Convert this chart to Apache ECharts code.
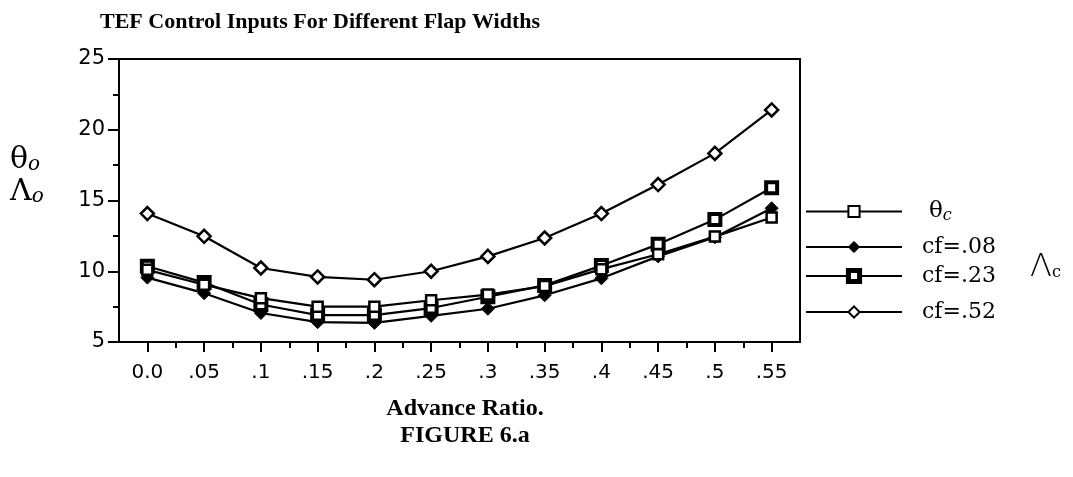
<!DOCTYPE html>
<html>
<head>
<meta charset="utf-8">
<script src="https://cdn.jsdelivr.net/npm/echarts@6/dist/echarts.min.js"></script>
<style>
html,body{margin:0;padding:0;background:#fff;}
#chart{width:1073px;height:477px;}
</style>
</head>
<body>
<div id="chart"></div>
<script>
// ---- data ----
const advanceRatio = [0, 0.05, 0.10, 0.15, 0.20, 0.25, 0.30, 0.35, 0.40, 0.45, 0.50, 0.55];
const theta0 = [10.1, 9.05, 8.1, 7.5, 7.5, 7.95, 8.35, 8.95, 10.15, 11.2, 12.45, 13.8];
const cf08  = [9.55, 8.45, 7.05, 6.4, 6.35, 6.85, 7.35, 8.3, 9.5, 11.05, 12.4, 14.45];
const cf23  = [10.35, 9.2, 7.65, 6.9, 6.9, 7.4, 8.2, 9.0, 10.4, 11.9, 13.65, 15.9];
const cf52  = [14.08, 12.47, 10.23, 9.6, 9.4, 10.0, 11.05, 12.35, 14.08, 16.13, 18.33, 21.4];

const xTickValues = [0, 0.05, 0.10, 0.15, 0.20, 0.25, 0.30, 0.35, 0.40, 0.45, 0.50, 0.55];
const xTickLabels = ['0.0', '.05', '.1', '.15', '.2', '.25', '.3', '.35', '.4', '.45', '.5', '.55'];
const xMinorTicks = [0.025, 0.075, 0.125, 0.175, 0.225, 0.275, 0.325, 0.375, 0.425, 0.475, 0.525];
const yTickLabels = ['5', '10', '15', '20', '25'];

const seriesNames = ['theta', 'cf=.08', 'cf=.23', 'cf=.52'];

function pairs(vals) { return vals.map((v, i) => [advanceRatio[i], v]); }

const chart = echarts.init(document.getElementById('chart'), null, {renderer: 'canvas'});

const lineStyle = {color: '#000', width: 2.2};
const serifFont = 'DejaVu Serif';

function legendAt(name, top, padLeft, formatter, borderW) {
  return {
    data: [name],
    left: 800,
    top: top,
    orient: 'vertical',
    itemWidth: 96,
    itemHeight: 14,
    formatter: formatter,
    itemStyle: {borderWidth: borderW, borderColor: '#000'},
    textStyle: {
      fontFamily: serifFont, fontSize: 22, color: '#000', padding: [0, 0, 0, padLeft],
      rich: {
        a: {fontFamily: serifFont, fontSize: 23, color: '#000'},
        s: {fontFamily: serifFont, fontSize: 16, fontStyle: 'italic', color: '#000', padding: [8, 0, 0, 0]}
      }
    }
  };
}

const option = {
  backgroundColor: '#fff',
  animation: false,
  title: [
    {text: 'TEF Control Inputs For Different Flap Widths', left: 95, top: 6,
     textStyle: {fontFamily: 'Liberation Serif', fontWeight: 'bold', fontSize: 22, color: '#000'}},
    {text: 'Advance Ratio.', left: 460, top: 392, textAlign: 'center',
     textStyle: {fontFamily: 'Liberation Serif', fontWeight: 'bold', fontSize: 24, color: '#000'}},
    {text: 'FIGURE 6.a', left: 460, top: 419, textAlign: 'center',
     textStyle: {fontFamily: 'Liberation Serif', fontWeight: 'bold', fontSize: 24, color: '#000'}}
  ],
  legend: [
    legendAt('theta', 195, 22, () => '{a|θ}{s|c}', 2),
    legendAt('cf=.08', 231, 15, undefined, 1),
    legendAt('cf=.23', 260, 15, undefined, 5),
    legendAt('cf=.52', 296, 15, undefined, 2)
  ],
  graphic: [
    {type: 'text', left: 10, top: 145,
     style: {text: '{a|θ}{s|o}', rich: {
       a: {fontFamily: serifFont, fontSize: 30, fill: '#000'},
       s: {fontFamily: serifFont, fontSize: 20, fontStyle: 'italic', fill: '#000', padding: [10, 0, 0, 0]}}}},
    {type: 'text', left: 10, top: 177,
     style: {text: '{a|Λ}{s|o}', rich: {
       a: {fontFamily: serifFont, fontSize: 30, fill: '#000'},
       s: {fontFamily: serifFont, fontSize: 20, fontStyle: 'italic', fill: '#000', padding: [10, 0, 0, 0]}}}},
    {type: 'text', left: 1030, top: 252,
     style: {text: '{a|Λ}{s|c}', rich: {
       a: {fontFamily: 'DejaVu Sans', fontSize: 32, fontWeight: 'lighter', fill: '#000'},
       s: {fontFamily: serifFont, fontSize: 16, fill: '#000', padding: [10, 0, 0, 0]}}}}
  ],
  grid: {left: 119, right: 273, top: 59, bottom: 135, show: true, borderColor: '#000', borderWidth: 2, containLabel: false},
  xAxis: [
    {type: 'value', min: -0.025, max: 0.575,
     axisLine: {show: true, onZero: false, lineStyle: {color: '#000', width: 2}},
     axisTick: {show: true, customValues: xTickValues, length: 10, lineStyle: {color: '#000', width: 2}},
     axisLabel: {show: true, customValues: xTickValues, margin: 21, color: '#000',
       fontFamily: 'DejaVu Sans', fontSize: 20,
       formatter: v => { const i = xTickValues.findIndex(t => Math.abs(t - v) < 1e-6); return i >= 0 ? xTickLabels[i] : ''; }},
     splitLine: {show: false}},
    {type: 'value', min: -0.025, max: 0.575, position: 'bottom',
     axisLine: {show: false, onZero: false},
     axisTick: {show: true, customValues: xMinorTicks, length: 6, lineStyle: {color: '#000', width: 2}},
     axisLabel: {show: false},
     splitLine: {show: false}}
  ],
  yAxis: {type: 'value', min: 5, max: 25, interval: 5,
    axisLine: {show: true, onZero: false, lineStyle: {color: '#000', width: 2}},
    axisTick: {show: true, length: 11, lineStyle: {color: '#000', width: 2}},
    minorTick: {show: true, splitNumber: 2, length: 6, lineStyle: {color: '#000', width: 2}},
    axisLabel: {color: '#000', fontFamily: 'DejaVu Sans', fontSize: 21, margin: 14,
      formatter: v => yTickLabels[Math.round((v - 5) / 5)] || ''},
    splitLine: {show: false}, minorSplitLine: {show: false}},
  series: [
    {name: seriesNames[0], type: 'line', data: pairs(theta0), symbol: 'rect', symbolSize: 10,
     lineStyle: lineStyle, itemStyle: {color: '#fff', borderColor: '#000', borderWidth: 2.5}, z: 4},
    {name: seriesNames[1], type: 'line', data: pairs(cf08), symbol: 'diamond', symbolSize: 13,
     lineStyle: lineStyle, itemStyle: {color: '#000', borderColor: '#000', borderWidth: 1}, z: 3},
    {name: seriesNames[2], type: 'line', data: pairs(cf23), symbol: 'rect', symbolSize: 11,
     lineStyle: lineStyle, itemStyle: {color: '#fff', borderColor: '#000', borderWidth: 4}, z: 3},
    {name: seriesNames[3], type: 'line', data: pairs(cf52), symbol: 'diamond', symbolSize: 13,
     lineStyle: lineStyle, itemStyle: {color: '#fff', borderColor: '#000', borderWidth: 2.5}, z: 3}
  ]
};
chart.setOption(option);
</script>
</body>
</html>
